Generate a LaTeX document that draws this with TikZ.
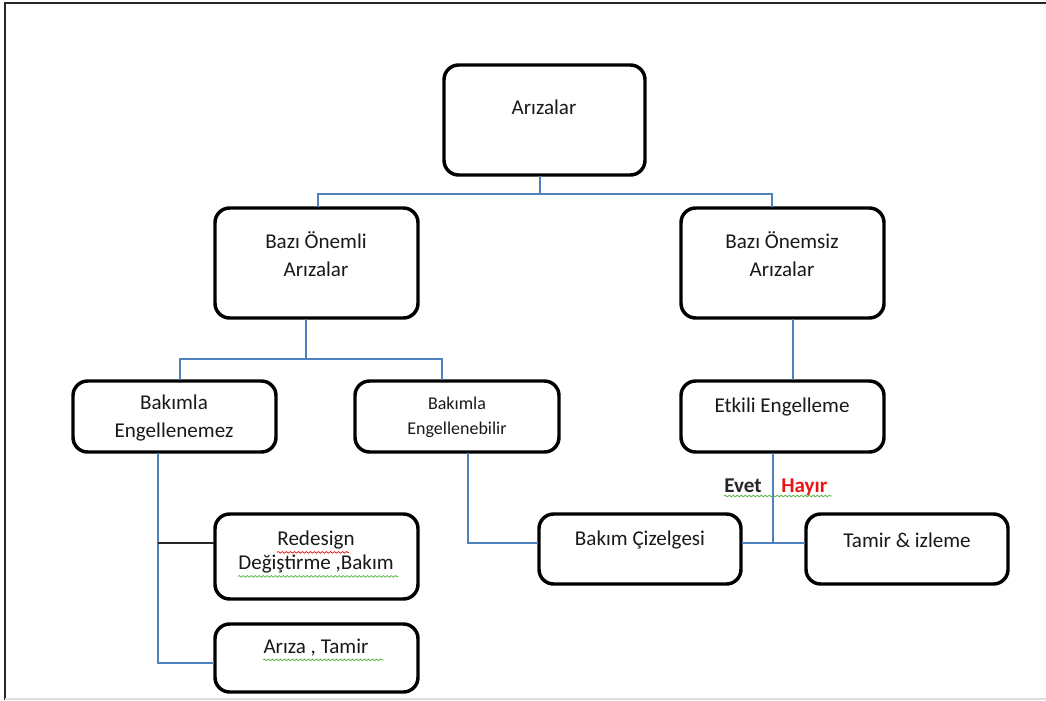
\documentclass[tikz,border=0pt]{standalone}
\usepackage{fontspec}
\setmainfont{Carlito}
\usetikzlibrary{decorations.pathmorphing}
\definecolor{linkblue}{RGB}{79,129,189}
\definecolor{spellred}{RGB}{230,40,40}
\definecolor{spellgreen}{RGB}{90,180,70}
\definecolor{hayirred}{RGB}{235,20,20}
\tikzset{
  x=0.75pt, y=-0.75pt,
  box/.style={draw=black, line width=2.6pt, rounded corners=11pt, fill=white},
  txt/.style={font=\fontsize{15.8}{21}\selectfont, align=center, inner sep=0pt, text=black!90},
  small/.style={font=\fontsize{13.5}{19}\selectfont, align=center, inner sep=0pt, text=black!90},
  link/.style={draw=linkblue, line width=0.9pt},
  plainlink/.style={draw=black!85, line width=0.9pt},
  squig/.style={line width=0.6pt, decorate, decoration={snake, amplitude=0.6pt, segment length=3pt}},
}
\begin{document}
\begin{tikzpicture}
\useasboundingbox (0,0) rectangle (1046,700);
% page frame
\draw[line width=2pt, black!85] (5,700) -- (5,3) -- (1046,3);
\draw[line width=0.8pt, black!12] (5,699) -- (1046,699);

% boxes
\draw[box] (444,65) rectangle (645,175);
\draw[box] (215,208) rectangle (418,318);
\draw[box] (681,208) rectangle (884,318);
\draw[box] (73,381) rectangle (276,452);
\draw[box] (355,381) rectangle (559,452);
\draw[box] (681,381) rectangle (884,452);
\draw[box] (539,514) rectangle (741,584);
\draw[box] (806,514) rectangle (1008,584);
\draw[box] (215,514) rectangle (418,599);
\draw[box] (215,624) rectangle (418,692);

% named anchors for the connectors
\coordinate (arizalarB) at (540,176);
\coordinate (onemliT) at (318,207);
\coordinate (onemliB) at (306,319);
\coordinate (onemsizT) at (772,207);
\coordinate (onemsizB) at (793,319);
\coordinate (engnemezT) at (180,380);
\coordinate (engnemezB) at (158,453);
\coordinate (engbilirT) at (442,380);
\coordinate (engbilirB) at (468,453);
\coordinate (etkiliT) at (793,380);
\coordinate (etkiliB) at (773,453);
\coordinate (cizelgeL) at (538,543);
\coordinate (cizelgeR) at (742,543);
\coordinate (tamirL) at (805,543);
\coordinate (redesignL) at (214,543);
\coordinate (arizaL) at (214,663);

% texts
\node[txt] (t1) at (544,107) {Arızalar};
\node[txt] (t2) at (316,254) {Bazı Önemli\\Arızalar};
\node[txt] (t3) at (782,254) {Bazı Önemsiz\\Arızalar};
\node[txt] (t4) at (174,418) {Bakımla\\Engellenemez};
\node[small] (t5) at (457,417) {Bakımla\\Engellenebilir};
\node[txt] (t6) at (782,407) {Etkili Engelleme};
\node[txt] (t7) at (640,540) {Bakım Çizelgesi};
\node[txt] (t8) at (907,540) {Tamir \& izleme};
\node[txt] (t9a) at (316,540) {Redesign};
\node[txt] (t9b) at (316,564) {Değiştirme ,Bakım};
\node[txt] (t10) at (316,648) {Arıza , Tamir};
\node[txt, font=\fontsize{15.8}{18}\selectfont\bfseries, text=black!85, anchor=base west] (evet) at (724,492) {Evet};
\node[txt, font=\fontsize{15.8}{18}\selectfont\bfseries, text=hayirred, anchor=base west] (hayir) at (781,492) {Hayır};

% spell-check underlines
\draw[squig, spellred] (t9a.south west) ++(0,3) -- ++(72,0);
\draw[squig, spellgreen] (t9b.south west) ++(0,3) -- ++(160,0);
\draw[squig, spellgreen] (t10.south west) ++(0,3) -- ++(120,0);
\draw[squig, spellgreen] (evet.base west) ++(0,4) -- ++(108,0);

% connectors
\draw[link] (arizalarB) |- (318,194) -- (onemliT);
\draw[link] (540,194) -| (onemsizT);
\draw[link] (onemliB) |- (180,359) -- (engnemezT);
\draw[link] (306,359) -| (engbilirT);
\draw[link] (onemsizB) -- (etkiliT);
\draw[link] (etkiliB) -- (773,543);
\draw[link] (cizelgeR) -- (tamirL);
\draw[link] (engbilirB) |- (cizelgeL);
\draw[link] (engnemezB) |- (arizaL);
\draw[plainlink] (158,543) -- (redesignL);
\end{tikzpicture}
\end{document}
